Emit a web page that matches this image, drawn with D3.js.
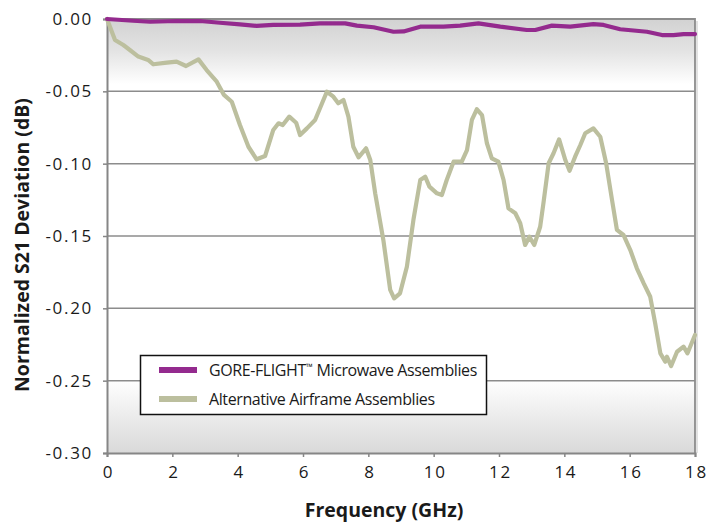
<!DOCTYPE html>
<html>
<head>
<meta charset="utf-8">
<script src="https://cdn.jsdelivr.net/npm/d3@7"></script>
<style>
  html, body { margin: 0; padding: 0; background: #fff; }
  svg { display: block; }
  text { font-family: "Open Sans", sans-serif; fill: #1a1a1a; }
</style>
</head>
<body>
<svg id="chart" width="723" height="523"></svg>
<script>
// ---- data ----
const seriesNames = [["GORE-FLIGHT", "\u2122", " Microwave Assemblies"], ["Alternative Airframe Assemblies", "", ""]];
const seriesColors = ["#942a8e", "#bcbf9e"];

const goreFreq = [0, 0.80, 1.32, 2.13, 2.85, 3.46, 4.07, 4.58, 5.09, 5.91, 6.52, 7.29, 7.65, 8.16, 8.77, 9.08, 9.59, 10.30, 10.81, 11.37, 12.04, 12.85, 13.11, 13.62, 14.18, 14.89, 15.20, 15.71, 16.53, 16.99, 17.34, 17.65, 18];
const goreVal  = [0, -0.0012, -0.0019, -0.0014, -0.0014, -0.0026, -0.0037, -0.0048, -0.0041, -0.0039, -0.0030, -0.0030, -0.0046, -0.0057, -0.0088, -0.0086, -0.0053, -0.0053, -0.0046, -0.0030, -0.0053, -0.0076, -0.0076, -0.0046, -0.0053, -0.0035, -0.0041, -0.0071, -0.0088, -0.0111, -0.0111, -0.0104, -0.0104];

const altFreq = [0, 0.245, 0.50, 0.70, 0.96, 1.26, 1.42, 1.83, 2.13, 2.42, 2.80, 3.05, 3.36, 3.58, 3.82, 4.07, 4.33, 4.58, 4.84, 5.09, 5.25, 5.38, 5.58, 5.79, 5.91, 6.12, 6.37, 6.73, 6.93, 7.08, 7.24, 7.39, 7.54, 7.70, 7.93, 8.06, 8.21, 8.46, 8.67, 8.79, 8.97, 9.18, 9.38, 9.59, 9.74, 9.87, 10.10, 10.25, 10.40, 10.61, 10.86, 11.02, 11.17, 11.32, 11.48, 11.63, 11.78, 11.98, 12.14, 12.29, 12.50, 12.65, 12.80, 12.93, 13.08, 13.26, 13.36, 13.52, 13.67, 13.84, 14.03, 14.16, 14.33, 14.49, 14.64, 14.89, 15.10, 15.28, 15.46, 15.61, 15.81, 16.02, 16.22, 16.43, 16.63, 16.78, 16.94, 17.09, 17.14, 17.27, 17.45, 17.65, 17.77, 18];
const altVal  = [0, -0.0145, -0.0180, -0.0214, -0.0260, -0.0283, -0.0313, -0.0302, -0.0295, -0.0325, -0.0279, -0.0353, -0.0433, -0.0525, -0.0572, -0.0733, -0.0883, -0.0970, -0.0947, -0.0767, -0.0721, -0.0733, -0.0675, -0.0717, -0.0802, -0.0756, -0.0698, -0.0503, -0.0537, -0.0583, -0.0560, -0.0675, -0.0883, -0.0956, -0.0894, -0.0975, -0.1205, -0.1528, -0.1873, -0.1931, -0.1896, -0.1712, -0.1389, -0.1113, -0.1090, -0.1159, -0.1205, -0.1217, -0.1113, -0.0986, -0.0986, -0.0906, -0.0698, -0.0624, -0.0664, -0.0859, -0.0963, -0.0986, -0.1113, -0.1309, -0.1343, -0.1412, -0.1562, -0.1505, -0.1562, -0.1436, -0.1274, -0.0997, -0.0928, -0.0832, -0.0975, -0.1049, -0.0952, -0.0871, -0.0790, -0.0756, -0.0814, -0.0997, -0.1251, -0.1458, -0.1493, -0.1597, -0.1723, -0.1827, -0.1920, -0.2103, -0.2311, -0.2369, -0.2334, -0.2399, -0.2300, -0.2265, -0.2311, -0.2184];

const xTicks = [0, 2, 4, 6, 8, 10, 12, 14, 16, 18];
const yTicks = [0, -0.05, -0.10, -0.15, -0.20, -0.25, -0.30];
const xTitle = "Frequency (GHz)";
const yTitle = "Normalized S21 Deviation (dB)";

// ---- layout ----
const svg = d3.select("#chart");
const L = 107, R = 695, T = 19, B = 453;
const x = d3.scaleLinear().domain([0, 18]).range([L, R]);
const y = d3.scaleLinear().domain([-0.30, 0]).range([B, T]);

// gradient background
const defs = svg.append("defs");
const grad = defs.append("linearGradient").attr("id", "bg")
  .attr("x1", 0).attr("y1", 0).attr("x2", 0).attr("y2", 1);
[[0, "#d2d2d2"], [0.07, "#e2e2e2"], [0.15, "#ffffff"], [0.83, "#ffffff"], [1, "#d9d9d9"]]
  .forEach(([o, c]) => grad.append("stop").attr("offset", o).attr("stop-color", c));

svg.append("rect").attr("x", L).attr("y", T).attr("width", R - L).attr("height", B - T)
  .attr("fill", "url(#bg)");

// gridlines
svg.append("g").selectAll("line").data(yTicks.filter(d => d !== 0 && d !== -0.30)).join("line")
  .attr("x1", L).attr("x2", R).attr("y1", d => y(d)).attr("y2", d => y(d))
  .attr("stroke", "#8c8c8c").attr("stroke-width", 1.5);

// plot border (top/right)
svg.append("path")
  .attr("d", `M${L},${T}H${R}V${B}`)
  .attr("fill", "none").attr("stroke", "#8c8c8c").attr("stroke-width", 1.8);
svg.append("line").attr("x1", R + 2).attr("x2", R + 2).attr("y1", T + 2).attr("y2", B)
  .attr("stroke", "#d8d8d8").attr("stroke-width", 1.5);

// axes
const xAxis = d3.axisBottom(x).tickValues(xTicks).tickFormat(d3.format("d")).tickSize(4).tickPadding(9);
const yAxis = d3.axisLeft(y).tickValues(yTicks).tickFormat(d3.format(".2f")).tickSize(4).tickPadding(10);

const gx = svg.append("g").attr("transform", `translate(0,${B})`).call(xAxis);
const gy = svg.append("g").attr("transform", `translate(${L},0)`).call(yAxis);
[gx, gy].forEach(g => {
  g.select(".domain").attr("stroke", "#868686").attr("stroke-width", 2);
  g.selectAll(".tick line").attr("stroke", "#868686").attr("stroke-width", 1.5);
  g.selectAll(".tick text").style("font-family", "'Open Sans', sans-serif")
    .style("font-size", "17px").style("letter-spacing", "1.7px").attr("fill", "#1a1a1a");
});
gx.selectAll(".tick text").attr("dx", "1");
gy.selectAll(".tick text").text(d => d3.format(".2f")(d).replace("−", "-"));

// lines
const line = d3.line().x(d => x(d[0])).y(d => y(d[1]));
const altData = altFreq.map((f, i) => [f, altVal[i]]);
const goreData = goreFreq.map((f, i) => [f, goreVal[i]]);

svg.append("path").datum(altData).attr("d", line)
  .attr("fill", "none").attr("stroke", seriesColors[1]).attr("stroke-width", 4.2)
  .attr("stroke-linejoin", "round").attr("stroke-linecap", "round");
svg.append("path").datum(goreData).attr("d", line)
  .attr("fill", "none").attr("stroke", seriesColors[0]).attr("stroke-width", 4.2)
  .attr("stroke-linejoin", "round").attr("stroke-linecap", "round");

// legend
const lg = svg.append("g");
lg.append("rect").attr("x", 140.5).attr("y", 355.5).attr("width", 346).attr("height", 59)
  .attr("fill", "#fff").attr("stroke", "#111").attr("stroke-width", 1.5);
const legY = [370, 399];
seriesNames.forEach((parts, i) => {
  lg.append("line").attr("x1", 159).attr("x2", 197).attr("y1", legY[i]).attr("y2", legY[i])
    .attr("stroke", seriesColors[i]).attr("stroke-width", 6);
  const t = lg.append("text").attr("x", 209).attr("y", legY[i] + 6)
    .style("font-size", "16px").style("letter-spacing", "-0.4px");
  t.append("tspan").text(parts[0]);
  if (parts[1]) {
    t.append("tspan").attr("dy", -6).style("font-size", "9px").style("letter-spacing", "0px").text(parts[1]);
    t.append("tspan").attr("dy", 6).text(parts[2]);
  }
});

// titles
svg.append("text").attr("x", 384).attr("y", 517).attr("text-anchor", "middle")
  .style("font-size", "19.5px").style("font-weight", "bold").text(xTitle);
svg.append("text").attr("transform", `translate(29,245) rotate(-90)`)
  .attr("text-anchor", "middle")
  .style("font-size", "19.5px").style("font-weight", "bold").text(yTitle);
</script>
</body>
</html>
